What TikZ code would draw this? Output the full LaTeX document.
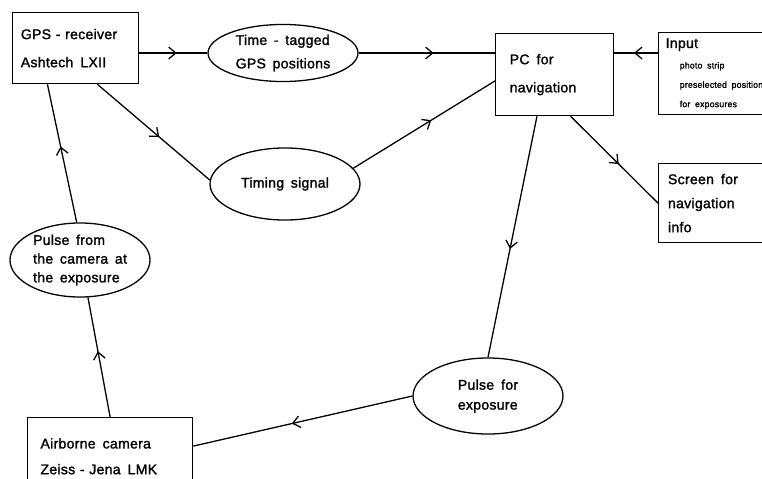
\documentclass[tikz,border=0pt]{standalone}
\usepackage{fontspec}
\setmainfont{Liberation Sans}[WordSpace=1.6,LetterSpace=2,FakeBold=1.5]
\usetikzlibrary{shapes.geometric,arrows.meta,decorations.markings}
\begin{document}
\begin{tikzpicture}[x=0.03cm, y=-0.03cm, line width=1.1pt,
  every node/.style = {font=\fontsize{12}{20}\selectfont, align=left},
  box/.style = {draw, rectangle, anchor=north west, inner xsep=7pt},
  oval/.style = {draw, ellipse, inner sep=-2em},
  flow/.style = {postaction={decorate}, decoration={markings,
    mark=at position 0.55 with {\arrow{Straight Barb[length=6pt,width=10pt]}}}}]
  \useasboundingbox (0,0) rectangle (762,478);
  \clip (0,0) rectangle (762,478);

  \node[box, text width=93.6pt, minimum height=60.6pt,
    font=\fontsize{12}{24}\selectfont] (gps) at (12,12)
    {GPS - receiver\\Ashtech\enskip LXII};
  \node[box, inner xsep=12pt, text width=76.7pt, minimum height=70pt,
    font=\fontsize{12}{24}\selectfont] (pc) at (495,33)
    {PC\enskip for\\navigation};
  \node[box, inner xsep=6pt, text width=116pt, minimum height=70pt,
    font=\fontsize{12}{16.5}\selectfont] (input) at (658,32)
    {Input\\[1pt]
     {\fontsize{7.5}{9}\selectfont\hspace{12pt}photo strip}\\
     {\fontsize{7.5}{9}\selectfont\hspace{12pt}preselected positions}\\
     {\fontsize{7.5}{9}\selectfont\hspace{12pt}for exposures}};
  \node[box, inner xsep=8pt, text width=112pt, minimum height=67.4pt,
    font=\fontsize{12}{20.5}\selectfont] (screen) at (658,163)
    {Screen\enskip for\\navigation\\info};
  \node[box, inner xsep=11pt, text width=118.8pt, minimum height=66pt,
    font=\fontsize{12}{22}\selectfont] (camera) at (27,417)
    {Airborne\enskip camera\\Zeiss - Jena\enskip LMK};

  \node[oval, minimum width=128pt, minimum height=48.7pt] (time) at (283,53)
    {Time - tagged\\GPS positions};
  \node[oval, minimum width=128pt, minimum height=61.5pt] (timing) at (285,184)
    {Timing signal};
  \node[oval, minimum width=119.5pt, minimum height=63.2pt,
    font=\fontsize{12}{16}\selectfont] (pcam) at (80,260)
    {Pulse from\\the camera at\\the exposure};
  \node[oval, minimum width=128pt, minimum height=64.9pt,
    font=\fontsize{12}{17}\selectfont] (pexp) at (488,396)
    {Pulse\enskip for\\exposure};

  \draw[flow] (gps.east |- time.west) -- (time.west);
  \draw[flow] (time.east) -- (pc.west |- time.east);
  \draw[flow] (input.west |- time.east) -- (pc.east |- time.east);
  \draw[flow] (gps.-59) -- (timing.177);
  \draw[flow] (timing.13) -- (pc.186);
  \draw[flow] (pc.247) -- (pexp.north);
  \draw[flow] (pc.-69) -- (screen.west);
  \draw[flow] (pexp.west) -- (camera.7);
  \draw[flow] (camera.north) -- (pcam.-78);
  \draw[flow] (pcam.95) -- (gps.232);
\end{tikzpicture}
\end{document}
